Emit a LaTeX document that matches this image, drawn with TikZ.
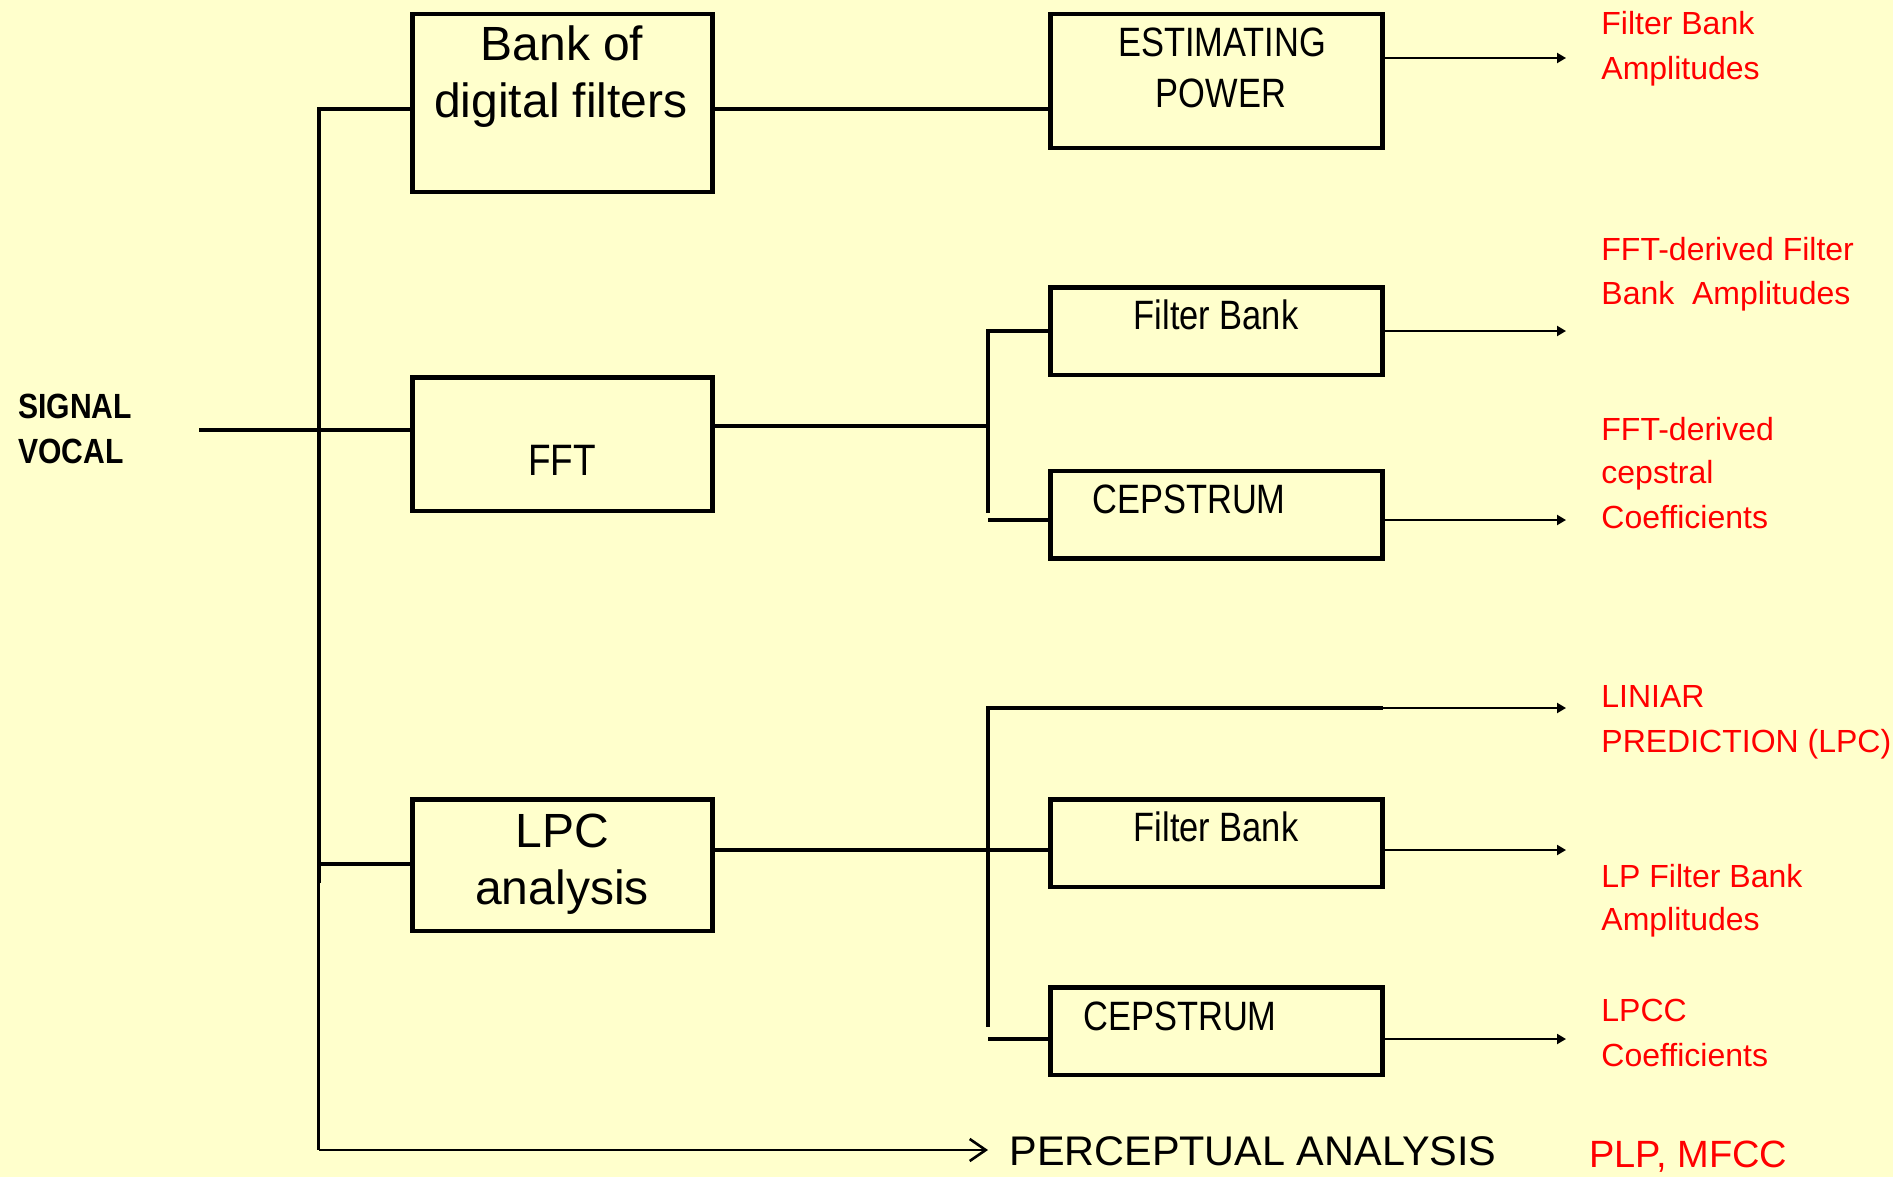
\documentclass[tikz,border=0pt]{standalone}
\usepackage{fontspec}
\setmainfont{Liberation Sans}
\newfontfamily\narrowfont[FakeStretch=0.84]{Liberation Sans}
\newfontfamily\sigfont[FakeStretch=0.86]{Liberation Sans}
\usetikzlibrary{arrows.meta}
\definecolor{bgyellow}{HTML}{FFFFCC}
\definecolor{lblred}{HTML}{FF0000}
\begin{document}
\begin{tikzpicture}[x=0.5pt,y=-0.5pt,
  blk/.style={draw=black,line width=2.25pt,rectangle,inner sep=0pt,outer sep=0pt,minimum width=#1},
  blk/.default=150pt,
  txt/.style={anchor=base,inner sep=0pt},
  lbl/.style={anchor=base west,inner sep=0pt,text=lblred,font=\fontsize{16}{19}\selectfont},
  boxfont/.style={font=\fontsize{24}{28}\selectfont},
  nboxfont/.style={font=\narrowfont\fontsize{20.5}{24}\selectfont},
  thk/.style={line width=2pt},
  thn/.style={line width=1.2pt},
  outarr/.style={line width=1pt,-{Triangle[length=4.5pt,width=5pt]}},
  percarr/.style={line width=1.2pt,-{Straight Barb[length=8pt,width=11pt,line width=1.3pt]}}]
\fill[bgyellow] (0,0) rectangle (1893,1177);
\useasboundingbox (0,0) rectangle (1893,1177);

% boxes
\node[blk,minimum height=88.75pt] (bank) at (562.5,103) {};
\node[blk=166pt,minimum height=66.75pt] (est) at (1216.5,81) {};
\node[blk,minimum height=66.75pt] (fft) at (562.5,444) {};
\node[blk=166pt,minimum height=43.75pt] (fb1) at (1216.5,331) {};
\node[blk=166pt,minimum height=43.75pt] (cep1) at (1216.5,514.5) {};
\node[blk,minimum height=65.75pt] (lpc) at (562.5,865) {};
\node[blk=166pt,minimum height=43.75pt] (fb2) at (1216.5,843) {};
\node[blk=166pt,minimum height=43.75pt] (cep2) at (1216.5,1031) {};

% box texts
\node[txt,boxfont] (bankA) at (562,61) {Bank of};
\node[txt,boxfont] (bankB) at (561,118) {digital filters};
\node[txt,nboxfont] (estA) at (1222,57) {ESTIMATING};
\node[txt,nboxfont] (estB) at (1221,107) {POWER};
\node[txt,font=\narrowfont\fontsize{22}{26}\selectfont] (fftT) at (562,475) {FFT};
\node[txt,nboxfont] (fb1T) at (1216,329) {Filter Bank};
\node[txt,nboxfont] (cep1T) at (1189,513) {CEPSTRUM};
\node[txt,boxfont] (lpcA) at (562,847) {LPC};
\node[txt,boxfont] (lpcB) at (562,904.5) {analysis};
\node[txt,nboxfont] (fb2T) at (1216,841) {Filter Bank};
\node[txt,nboxfont] (cep2T) at (1180,1030) {CEPSTRUM};

% input label
\node[anchor=base west,inner sep=0pt,font=\sigfont\bfseries\fontsize{17.5}{20}\selectfont] (sigA) at (18,418) {SIGNAL};
\node[anchor=base west,inner sep=0pt,font=\sigfont\bfseries\fontsize{17.5}{20}\selectfont] (sigB) at (18,463.5) {VOCAL};

% bottom texts
\node[anchor=base west,inner sep=0pt,font=\fontsize{20.7}{24}\selectfont] (perc) at (1009,1165) {PERCEPTUAL ANALYSIS};
\node[anchor=base west,inner sep=0pt,text=lblred,font=\fontsize{19}{22}\selectfont] (plp) at (1589,1167) {PLP, MFCC};

% red output labels
\node[lbl] (l1a) at (1601,35) {Filter Bank};
\node[lbl] (l1b) at (1601,80) {Amplitudes};
\node[lbl] (l2a) at (1601,260) {FFT-derived Filter};
\node[lbl] (l2b) at (1601,304) {Bank\ \ Amplitudes};
\node[lbl] (l3a) at (1601,440) {FFT-derived};
\node[lbl] (l3b) at (1601,483) {cepstral};
\node[lbl] (l3c) at (1601,528) {Coefficients};
\node[lbl] (l4a) at (1601,707.5) {LINIAR};
\node[lbl] (l4b) at (1601,752) {PREDICTION (LPC)};
\node[lbl] (l5a) at (1601,887) {LP Filter Bank};
\node[lbl] (l5b) at (1601,930.5) {Amplitudes};
\node[lbl] (l6a) at (1601,1021) {LPCC};
\node[lbl] (l6b) at (1601,1066) {Coefficients};

% coordinates
\coordinate (sigS) at (199,430);
\coordinate (busTop) at (318.5,109);
\coordinate (busMid) at (318.5,883);
\coordinate (busBot) at (318.5,1150);
\coordinate (lpcJ) at (318.5,864);
\coordinate (percTip) at (988,1150);
\coordinate (b2c) at (988,425.5);
\coordinate (b2t) at (988,331);
\coordinate (b2b) at (988,513);
\coordinate (b2s) at (988,520);
\coordinate (b3t) at (988,708);
\coordinate (b3c) at (988,850);
\coordinate (b3b) at (988,1027);
\coordinate (b3s) at (988,1039);
\coordinate (o1) at (1566,58);
\coordinate (o2) at (1566,331);
\coordinate (o3) at (1566,520);
\coordinate (o4) at (1566,708);
\coordinate (o5) at (1566,850);
\coordinate (o6) at (1566,1039);

% main bus
\draw[thk] (sigS) -- (sigS -| fft.west);
\draw[thk] (busTop -| bank.west) -- (busTop) -- (busMid);
\draw[thk] (lpcJ) -- (lpcJ -| lpc.west);
\draw[thn] (busMid) -- (busBot);
\draw[percarr] (busBot) -- (percTip);

% bank branch
\draw[thk] (bank.east |- busTop) -- (est.west |- busTop);
\draw[outarr] (o1 -| est.east) -- (o1);

% FFT branch
\draw[thk] (b2c -| fft.east) -- (b2c);
\draw[thk] (b2t -| fb1.west) -- (b2t) -- (b2b);
\draw[thk] (b2s) -- (b2s -| cep1.west);
\draw[outarr] (o2 -| fb1.east) -- (o2);
\draw[outarr] (o3 -| cep1.east) -- (o3);

% LPC branch
\draw[thk] (b3c -| lpc.east) -- (b3c -| fb2.west);
\draw[thk] (b3t -| fb2.east) -- (b3t) -- (b3b);
\draw[thk] (b3s) -- (b3s -| cep2.west);
\draw[outarr] (o4 -| fb2.east) -- (o4);
\draw[outarr] (o5 -| fb2.east) -- (o5);
\draw[outarr] (o6 -| cep2.east) -- (o6);
\end{tikzpicture}
\end{document}
